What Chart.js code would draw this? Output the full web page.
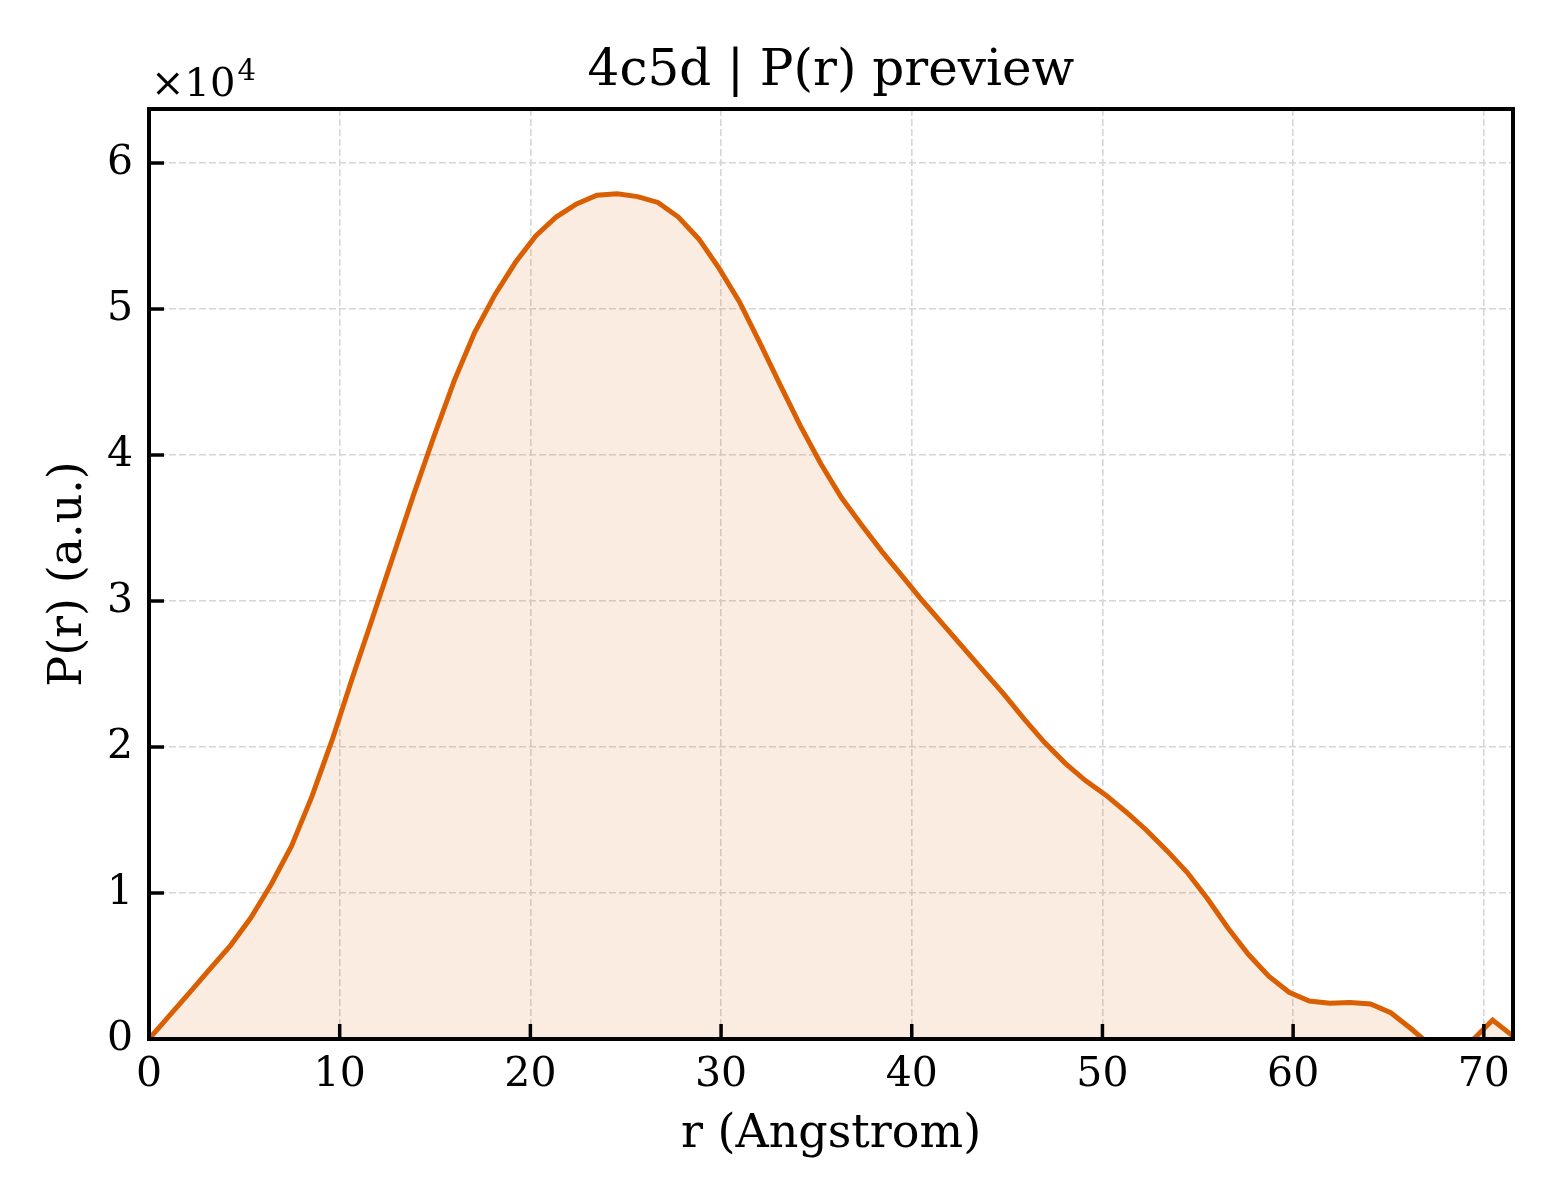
<!DOCTYPE html>
<html>
<head>
<meta charset="utf-8">
<script src="https://cdn.jsdelivr.net/npm/chart.js@4.4.1/dist/chart.umd.min.js"></script>
<style>
  html, body { margin: 0; padding: 0; background: #fff; }
  #wrap { width: 1560px; height: 1200px; }
</style>
</head>
<body>
<div id="wrap"><canvas id="chart" width="1560" height="1200"></canvas></div>
<script>
// pair distance distribution

// r in angstrom
const rValues = [
  0.00, 1.07, 2.14, 3.20, 4.27, 5.34, 6.41, 7.47, 8.54, 9.61,
  10.68, 11.74, 12.81, 13.88, 14.95, 16.01, 17.08, 18.15, 19.22, 20.28,
  21.35, 22.42, 23.49, 24.55, 25.62, 26.69, 27.76, 28.83, 29.89, 30.96,
  32.03, 33.10, 34.16, 35.23, 36.30, 37.37, 38.43, 39.50, 40.57, 41.64,
  42.70, 43.77, 44.84, 45.91, 46.97, 48.04, 49.11, 50.18, 51.24, 52.31,
  53.38, 54.45, 55.51, 56.58, 57.65, 58.72, 59.79, 60.85, 61.92, 62.99,
  64.06, 65.12, 66.19, 67.26, 68.33, 69.39, 70.46, 71.53,
];

// P(r), arbitrary units
const pValues = [
  0, 1600, 3200, 4800, 6400, 8300, 10600, 13200, 16600, 20500,
  24800, 28900, 33100, 37300, 41300, 45100, 48400, 51000, 53200, 55000,
  56300, 57200, 57800, 57900, 57700, 57300, 56300, 54800, 52800, 50500,
  47700, 44800, 42000, 39400, 37100, 35200, 33400, 31700, 30000, 28400,
  26800, 25200, 23600, 21900, 20300, 18900, 17700, 16700, 15550, 14300,
  12900, 11400, 9600, 7600, 5800, 4300, 3200, 2600, 2450, 2500,
  2400, 1800, 700, -500, -600, -100, 1300, 200,
];

const xTicks = [0, 10, 20, 30, 40, 50, 60, 70];
const yTicks = [0, 10000, 20000, 30000, 40000, 50000, 60000];
const xMax = 71.53;
const yMax = 63700;

const serif = "'DejaVu Serif', 'Liberation Serif', serif";
const lineColor = "#d95f02";

// spines, inward ticks, title and the x10^4 offset label
const decorations = {
  id: "decorations",
  afterDraw(chart) {
    const { ctx, chartArea: a, scales } = chart;
    ctx.save();
    ctx.strokeStyle = "#000";
    ctx.lineWidth = 3.5;
    ctx.lineCap = "butt";
    scales.x.ticks.forEach((t) => {
      const px = scales.x.getPixelForValue(t.value);
      ctx.beginPath();
      ctx.moveTo(px, a.bottom);
      ctx.lineTo(px, a.bottom - 15);
      ctx.stroke();
    });
    scales.y.ticks.forEach((t) => {
      const py = scales.y.getPixelForValue(t.value);
      ctx.beginPath();
      ctx.moveTo(a.left, py);
      ctx.lineTo(a.left + 15, py);
      ctx.stroke();
    });
    ctx.lineWidth = 4;
    ctx.strokeRect(a.left, a.top, a.right - a.left, a.bottom - a.top);

    ctx.fillStyle = "#000";
    ctx.textAlign = "center";
    ctx.textBaseline = "alphabetic";
    ctx.font = "50px " + serif;
    ctx.fillText("4c5d | P(r) preview", (a.left + a.right) / 2, 85);

    ctx.textAlign = "left";
    ctx.font = "40px " + serif;
    ctx.fillText("\u00d710", a.left + 2, 96);
    const w = ctx.measureText("\u00d710").width;
    ctx.font = "29px " + serif;
    ctx.fillText("4", a.left + 4 + w, 80);
    ctx.restore();
  },
};

new Chart(document.getElementById("chart"), {
  type: "line",
  data: {
    datasets: [{
      data: rValues.map((r, i) => ({ x: r, y: pValues[i] })),
      borderColor: lineColor,
      borderWidth: 5,
      backgroundColor: "rgba(217, 95, 2, 0.12)",
      fill: "origin",
      pointRadius: 0,
      tension: 0,
    }],
  },
  options: {
    responsive: false,
    animation: false,
    devicePixelRatio: 1,
    layout: { padding: { left: 0, right: 47, top: 109, bottom: 0 } },
    plugins: {
      legend: { display: false },
      tooltip: { enabled: false },
      title: { display: false },
    },
    scales: {
      x: {
        type: "linear",
        min: 0,
        max: xMax,
        afterBuildTicks: (s) => { s.ticks = xTicks.map((v) => ({ value: v })); },
        afterFit: (s) => { s.height = 161; },
        ticks: {
          color: "#000",
          padding: 12,
          maxRotation: 0,
          font: { family: serif, size: 41 },
          callback: (v) => String(v),
        },
        grid: { color: "#d6d6d6", lineWidth: 1.6, drawTicks: false },
        border: { display: false, dash: [7, 3] },
        title: {
          display: true,
          text: "r (Angstrom)",
          color: "#000",
          font: { family: serif, size: 46 },
          padding: { top: 0, bottom: 37 },
        },
      },
      y: {
        type: "linear",
        min: 0,
        max: yMax,
        afterBuildTicks: (s) => { s.ticks = yTicks.map((v) => ({ value: v })); },
        afterFit: (s) => { s.width = 149; },
        ticks: {
          color: "#000",
          padding: 16,
          font: { family: serif, size: 41 },
          callback: (v) => String(v / 10000),
        },
        grid: { color: "#d6d6d6", lineWidth: 1.6, drawTicks: false },
        border: { display: false, dash: [7, 3] },
        title: {
          display: true,
          text: "P(r) (a.u.)",
          color: "#000",
          font: { family: serif, size: 46 },
          padding: { top: 41, bottom: 0 },
        },
      },
    },
  },
  plugins: [decorations],
});
</script>
</body>
</html>
